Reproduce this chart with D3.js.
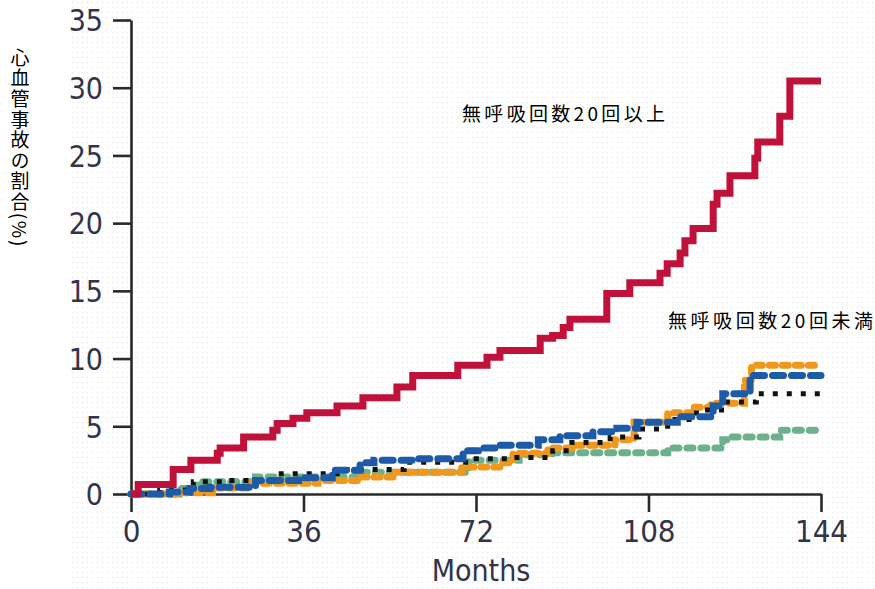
<!DOCTYPE html>
<html>
<head>
<meta charset="utf-8">
<script src="https://cdn.jsdelivr.net/npm/d3@7"></script>
<style>
  body { margin: 0; background: #fff; }
  svg { display: block; }
</style>
</head>
<body>
<svg width="875" height="589"></svg>
<script>

// tick values
var monthTicks = [0, 36, 72, 108, 144];
var pctTicks = [0, 5, 10, 15, 20, 25, 30, 35];

// step curves (month, % with event)
var redMonths   = [0, 1.5, 8.8, 12.5, 18, 18.6, 23.5, 29.6, 30.5, 33.8, 36.7, 43, 48.4, 55.5, 58.8, 68.2, 74.3, 77, 85.4, 88, 90.2, 91.6, 99.3, 104.1, 110.4, 111.9, 114.6, 115.6, 117.3, 121.5, 122.3, 125, 130.2, 130.8, 135.4, 137.5, 144];
var redValues   = [0, 0.7, 1.8, 2.5, 3.0, 3.4, 4.2, 4.7, 5.2, 5.6, 6.0, 6.5, 7.1, 7.9, 8.75, 9.5, 10.1, 10.6, 11.5, 11.7, 12.3, 12.9, 14.8, 15.6, 16.3, 17.0, 17.8, 18.7, 19.6, 21.4, 22.2, 23.5, 24.8, 26.0, 27.9, 30.5, 30.5];

var blueMonths  = [0, 8, 12.3, 16.5, 26, 35, 42, 47.8, 50.7, 59, 69.3, 72.8, 77, 85, 89.5, 96.4, 101.4, 105.6, 114, 121.5, 123.5, 129.2, 144];
var blueValues  = [0, 0.15, 0.4, 0.5, 1.0, 1.2, 1.75, 2.3, 2.5, 2.6, 3.2, 3.4, 3.6, 4.0, 4.3, 4.6, 4.85, 5.3, 5.7, 6.5, 7.4, 8.75, 8.75];

var orangeMonths = [0, 10, 17, 24, 39, 47.8, 54.7, 69, 77.6, 79.7, 87, 92, 101, 105, 112, 117.5, 121, 128, 129.5, 144];
var orangeValues = [0, 0.1, 0.45, 0.8, 1.0, 1.25, 1.6, 2.0, 2.3, 3.0, 3.4, 3.6, 4.0, 5.3, 6.0, 6.4, 6.7, 8.4, 9.5, 9.5];

var blackMonths = [0, 6, 13, 19, 30, 45, 57, 71, 80, 88, 92, 100, 106, 112, 118, 124, 130.5, 144];
var blackValues = [0, 0.3, 0.9, 1.0, 1.5, 1.8, 2.35, 2.6, 2.7, 3.2, 3.8, 4.2, 4.8, 5.5, 6.2, 6.8, 7.4, 7.4];

var greenMonths = [0, 10, 14, 26, 47, 70.5, 81, 88, 112, 123.5, 125, 135.4, 144];
var greenValues = [0, 0.4, 0.9, 1.25, 1.6, 2.5, 2.9, 3.05, 3.4, 4.0, 4.2, 4.7, 4.7];

var yTitle = '心血管事故の割合(%)';
var xTitle = 'Months';
var labelHigh = '無呼吸回数20回以上';
var labelLow = '無呼吸回数20回未満';

function pairs(ms, vs){
	return ms.map(function(m, i){ return [m, vs[i]]; });
}

var series = [
	{name: 'green',  data: pairs(greenMonths, greenValues),   color: '#6cb08c', width: 7, dash: '6,8',  cap: 'round'},
	{name: 'orange', data: pairs(orangeMonths, orangeValues), color: '#f0981e', width: 7, dash: '6,7',  cap: 'round'},
	{name: 'black',  data: pairs(blackMonths, blackValues),   color: '#111111', width: 5, dash: '5,9',  cap: 'butt'},
	{name: 'blue',   data: pairs(blueMonths, blueValues),     color: '#1d5aa8', width: 7, dash: '11,8', cap: 'round'},
	{name: 'red',    data: pairs(redMonths, redValues),       color: '#bf1139', width: 7, dash: null,   cap: 'butt'}
];

var svg = d3.select('svg');
var width = +svg.attr('width');
var height = +svg.attr('height');

// faint dotted paper
var defs = svg.append('defs');
var pat = defs.append('pattern')
	.attr('id', 'dots')
	.attr('width', 5).attr('height', 5)
	.attr('patternUnits', 'userSpaceOnUse');
pat.append('rect').attr('x', 2).attr('y', 2).attr('width', 1).attr('height', 1).attr('fill', '#e3e3e3');
svg.append('rect')
	.attr('x', 68).attr('y', 0)
	.attr('width', width - 68).attr('height', height)
	.attr('fill', 'url(#dots)');

var x = d3.scaleLinear().domain([0, 144]).range([131, 821]);
var y = d3.scaleLinear().domain([0, 35]).range([494, 20]);

var line = d3.line()
	.curve(d3.curveStepAfter)
	.x(function(d){ return x(d[0]); })
	.y(function(d){ return y(d[1]); });

// axes
var yAxis = svg.append('g')
	.attr('transform', 'translate(' + x(0) + ',0)')
	.call(d3.axisLeft(y).tickValues(pctTicks).tickSize(18).tickSizeOuter(0).tickPadding(10));
yAxis.selectAll('text')
	.style('font-family', '"Liberation Sans Narrow", "DejaVu Sans Condensed", sans-serif')
	.style('font-size', '30px')
	.attr('dy', '0.36em')
	.attr('fill', '#33334a');

var xAxis = svg.append('g')
	.attr('transform', 'translate(0,' + y(0) + ')')
	.call(d3.axisBottom(x).tickValues(monthTicks).tickSize(18).tickSizeOuter(0).tickPadding(8));
xAxis.selectAll('text')
	.style('font-family', '"Liberation Sans Narrow", "DejaVu Sans Condensed", sans-serif')
	.style('font-size', '31px')
	.attr('dy', '0.72em')
	.attr('fill', '#33334a');

svg.selectAll('.domain, .tick line')
	.attr('stroke', '#2a2a2a')
	.attr('stroke-width', 2.6);

// curves
series.forEach(function(s){
	svg.append('path')
		.datum(s.data)
		.attr('d', line)
		.attr('fill', 'none')
		.attr('stroke', s.color)
		.attr('stroke-width', s.width)
		.attr('stroke-linecap', s.cap)
		.attr('stroke-dasharray', s.dash);
});

// titles
svg.append('text')
	.attr('x', x(72) + 5)
	.attr('y', 581)
	.attr('text-anchor', 'middle')
	.style('font-family', '"Liberation Sans Narrow", "DejaVu Sans Condensed", sans-serif')
	.style('font-size', '30px')
	.attr('fill', '#33334a')
	.text(xTitle);

svg.append('text')
	.attr('x', 20)
	.attr('y', 48)
	.style('writing-mode', 'vertical-rl')
	.style('text-orientation', 'mixed')
	.style('font-family', '"Noto Sans CJK JP", sans-serif')
	.style('font-size', '19px')
	.style('letter-spacing', '1.6px')
	.attr('fill', '#000')
	.text(yTitle);

svg.append('text')
	.attr('x', 462)
	.attr('y', 121)
	.attr('textLength', 203)
	.attr('lengthAdjust', 'spacing')
	.style('font-family', '"Noto Sans CJK JP", sans-serif')
	.style('font-size', '19px')
	.attr('fill', '#000')
	.text(labelHigh);

svg.append('text')
	.attr('x', 668)
	.attr('y', 328)
	.attr('textLength', 205)
	.attr('lengthAdjust', 'spacing')
	.style('font-family', '"Noto Sans CJK JP", sans-serif')
	.style('font-size', '19px')
	.attr('fill', '#000')
	.text(labelLow);

</script>
</body>
</html>
